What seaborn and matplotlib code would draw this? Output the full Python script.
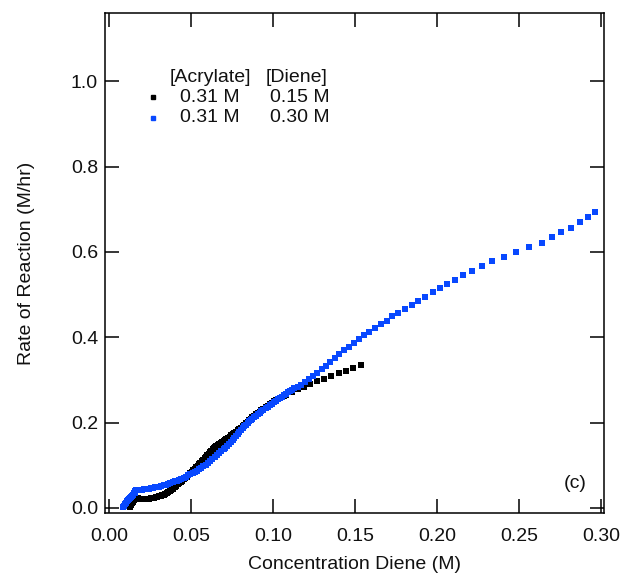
import numpy as np
import pandas as pd
import matplotlib
matplotlib.use("Agg")
import matplotlib.pyplot as plt
import seaborn as sns

# ---- data ----
blue_x = [0.0087, 0.0093, 0.0098, 0.0104, 0.0110, 0.0116, 0.0122, 0.0128, 0.0135, 0.0141,
          0.0148, 0.0153, 0.0158, 0.0161, 0.0163, 0.0171, 0.0180, 0.0190, 0.0200, 0.0211,
          0.0222, 0.0234, 0.0246, 0.0258, 0.0270, 0.0282, 0.0295, 0.0307, 0.0320, 0.0334,
          0.0348, 0.0361, 0.0375, 0.0388, 0.0402, 0.0415, 0.0429, 0.0442, 0.0455, 0.0468,
          0.0482, 0.0496, 0.0510, 0.0522, 0.0535, 0.0548, 0.0562, 0.0576, 0.0591, 0.0604,
          0.0618, 0.0631, 0.0645, 0.0659, 0.0673, 0.0686, 0.0700, 0.0710, 0.0720, 0.0732,
          0.0744, 0.0754, 0.0765, 0.0775, 0.0785, 0.0795, 0.0805, 0.0815, 0.0825, 0.0835,
          0.0845, 0.0855, 0.0865, 0.0875, 0.0885, 0.0895, 0.0906, 0.0918, 0.0930, 0.0942,
          0.0955, 0.0968, 0.0980, 0.0993, 0.1006, 0.1018, 0.1030, 0.1042, 0.1055, 0.1067,
          0.1080, 0.1092, 0.1105, 0.1118, 0.1130, 0.1152, 0.1173,
          0.1197, 0.1222, 0.1246, 0.1270, 0.1297, 0.1323, 0.1350, 0.1376, 0.1404, 0.1433,
          0.1461, 0.1492, 0.1522, 0.1555, 0.1587, 0.1622, 0.1659, 0.1693, 0.1726, 0.1762,
          0.1803, 0.1846, 0.1886, 0.1929, 0.1974, 0.2016, 0.2061, 0.2110, 0.2160, 0.2213,
          0.2272, 0.2337, 0.2407, 0.2482, 0.2561, 0.2638, 0.2701, 0.2758, 0.2817, 0.2872,
          0.2921, 0.2965]
blue_y = [0.002, 0.005, 0.008, 0.012, 0.015, 0.018, 0.021, 0.024, 0.026, 0.029,
          0.031, 0.034, 0.036, 0.039, 0.041, 0.0415, 0.042, 0.0425, 0.043, 0.0435,
          0.044, 0.0445, 0.045, 0.046, 0.047, 0.048, 0.049, 0.050, 0.051, 0.0525,
          0.054, 0.056, 0.058, 0.060, 0.062, 0.064, 0.066, 0.0685, 0.071, 0.0735,
          0.076, 0.0785, 0.081, 0.084, 0.087, 0.0905, 0.094, 0.0975, 0.101, 0.105,
          0.110, 0.1145, 0.119, 0.1235, 0.128, 0.1325, 0.137, 0.141, 0.145, 0.150,
          0.155, 0.1595, 0.164, 0.1685, 0.173, 0.1775, 0.182, 0.1865, 0.191, 0.195,
          0.199, 0.2025, 0.206, 0.2095, 0.213, 0.216, 0.219, 0.223, 0.227, 0.2305,
          0.234, 0.2375, 0.241, 0.2445, 0.248, 0.2515, 0.255, 0.258, 0.261, 0.2645,
          0.268, 0.271, 0.274, 0.277, 0.280, 0.284, 0.288,
          0.294, 0.301, 0.308, 0.316, 0.325, 0.333, 0.342, 0.351, 0.360, 0.369,
          0.378, 0.387, 0.396, 0.405, 0.413, 0.421, 0.431, 0.439, 0.449, 0.457,
          0.467, 0.476, 0.485, 0.495, 0.506, 0.516, 0.525, 0.535, 0.546, 0.556,
          0.567, 0.578, 0.589, 0.600, 0.611, 0.622, 0.634, 0.646, 0.657, 0.670,
          0.682, 0.693]

black_x = [0.0128, 0.0131, 0.0135, 0.0140, 0.0145, 0.0152, 0.0160, 0.0167, 0.0175, 0.0185,
           0.0195, 0.0205, 0.0215, 0.0225, 0.0235, 0.0245, 0.0255, 0.0265, 0.0275, 0.0285,
           0.0295, 0.0305, 0.0315, 0.0325, 0.0335, 0.0343, 0.0352, 0.0361, 0.0370, 0.0380,
           0.0390, 0.0400, 0.0409, 0.0418, 0.0428, 0.0438, 0.0448, 0.0456, 0.0465, 0.0475,
           0.0485, 0.0495, 0.0505, 0.0513, 0.0522, 0.0531, 0.0540, 0.0549, 0.0558, 0.0566,
           0.0575, 0.0583, 0.0591, 0.0600, 0.0608, 0.0616, 0.0625, 0.0632, 0.0640, 0.0648,
           0.0655, 0.0663, 0.0672, 0.0681, 0.0690, 0.0699, 0.0708, 0.0716, 0.0725, 0.0735,
           0.0745, 0.0755, 0.0765, 0.0775, 0.0785, 0.0795, 0.0805, 0.0815, 0.0825, 0.0835,
           0.0845, 0.0855, 0.0865, 0.0875, 0.0885, 0.0895, 0.0906, 0.0918, 0.0930, 0.0942,
           0.0955, 0.0968, 0.0980, 0.0993, 0.1005, 0.1018, 0.1030, 0.1042, 0.1055, 0.1068,
           0.1081, 0.1116, 0.1150, 0.1187, 0.1228, 0.1268, 0.1313, 0.1356, 0.1400, 0.1445,
           0.1488, 0.1535]
black_y = [0.001, 0.004, 0.007, 0.0105, 0.014, 0.0175, 0.021, 0.0215, 0.022, 0.0215,
           0.021, 0.021, 0.021, 0.021, 0.021, 0.0215, 0.022, 0.023, 0.024, 0.025,
           0.026, 0.027, 0.028, 0.0295, 0.031, 0.033, 0.035, 0.037, 0.039, 0.042,
           0.045, 0.0485, 0.052, 0.055, 0.058, 0.061, 0.064, 0.067, 0.070, 0.0735,
           0.077, 0.081, 0.085, 0.0885, 0.092, 0.0955, 0.099, 0.1025, 0.106, 0.1095,
           0.113, 0.1165, 0.120, 0.1235, 0.127, 0.1305, 0.134, 0.137, 0.140, 0.1425,
           0.145, 0.1475, 0.150, 0.1525, 0.155, 0.157, 0.159, 0.1615, 0.164, 0.167,
           0.170, 0.173, 0.176, 0.179, 0.182, 0.185, 0.188, 0.1915, 0.195, 0.1985,
           0.202, 0.2055, 0.209, 0.2125, 0.216, 0.219, 0.222, 0.2255, 0.229, 0.2325,
           0.236, 0.2395, 0.243, 0.2465, 0.250, 0.253, 0.256, 0.258, 0.260, 0.2625,
           0.265, 0.272, 0.278, 0.284, 0.291, 0.297, 0.303, 0.310, 0.316, 0.321,
           0.328, 0.335]

x_ticks = [0.00, 0.05, 0.10, 0.15, 0.20, 0.25, 0.30]
x_ticklabels = ["0.00", "0.05", "0.10", "0.15", "0.20", "0.25", "0.30"]
y_ticks = [0.0, 0.2, 0.4, 0.6, 0.8, 1.0]
y_ticklabels = ["0.0", "0.2", "0.4", "0.6", "0.8", "1.0"]

legend_header = ["[Acrylate]", "[Diene]"]
legend_acrylate = ["0.31 M", "0.31 M"]
legend_diene = ["0.15 M", "0.30 M"]

BLACK = "#000000"
BLUE = "#0848FF"

sns.set_theme(style="white")
plt.rcParams["font.family"] = ["Liberation Sans", "DejaVu Sans"]

W, H = 621, 581
fig = plt.figure(figsize=(W / 100, H / 100), dpi=100)
L, R, T, B = 105, 604, 13, 513
ax = fig.add_axes([L / W, 1 - B / H, (R - L) / W, (B - T) / H])

df_black = pd.DataFrame({"x": black_x, "y": black_y})
df_blue = pd.DataFrame({"x": blue_x, "y": blue_y})

sns.scatterplot(data=df_black, x="x", y="y", ax=ax, color=BLACK, marker="s",
                s=14, linewidth=0, legend=False, zorder=3)
sns.scatterplot(data=df_blue, x="x", y="y", ax=ax, color=BLUE, marker="s",
                s=14, linewidth=0, legend=False, zorder=4)

ax.set_xlim(-0.0024, 0.3018)
ax.set_ylim(-0.012, 1.16)
ax.set_xticks(x_ticks)
ax.set_xticklabels(x_ticklabels)
ax.set_yticks(y_ticks)
ax.set_yticklabels(y_ticklabels)

fs = 14
ax.tick_params(axis="both", which="major", direction="in", length=10, width=1.1,
               color="black", labelsize=fs, labelcolor="#111111",
               top=True, right=True, bottom=True, left=True)
ax.tick_params(axis="x", pad=11)
ax.tick_params(axis="y", pad=5)
for sp in ax.spines.values():
    sp.set_visible(True)
    sp.set_color("black")
    sp.set_linewidth(1.1)

ax.set_xlabel("Concentration Diene (M)", fontsize=fs, color="#111111", labelpad=8)
ax.set_ylabel("Rate of Reaction (M/hr)", fontsize=fs, color="#111111", labelpad=26)

# legend drawn manually (positions in pixel space)
def px(xp, yp):
    return ((xp - L) / (R - L), (B - yp) / (B - T))

ax.text(*px(170, 77), legend_header[0], transform=ax.transAxes, fontsize=fs,
        ha="left", va="center", color="#111111")
ax.text(*px(266, 77), legend_header[1], transform=ax.transAxes, fontsize=fs,
        ha="left", va="center", color="#111111")
for i, (c, a, d) in enumerate(zip([BLACK, BLUE], legend_acrylate, legend_diene)):
    yy = 97 + 21 * i
    ax.plot(*px(153, yy), marker="s", markersize=3.2, color=c, linestyle="none",
            transform=ax.transAxes)
    ax.text(*px(180, yy), a, transform=ax.transAxes, fontsize=fs,
            ha="left", va="center", color="#111111")
    ax.text(*px(270, yy), d, transform=ax.transAxes, fontsize=fs,
            ha="left", va="center", color="#111111")

ax.text(*px(575, 483), "(c)", transform=ax.transAxes, fontsize=fs,
        ha="center", va="center", color="#111111")

fig.savefig("out.png", dpi=100)
